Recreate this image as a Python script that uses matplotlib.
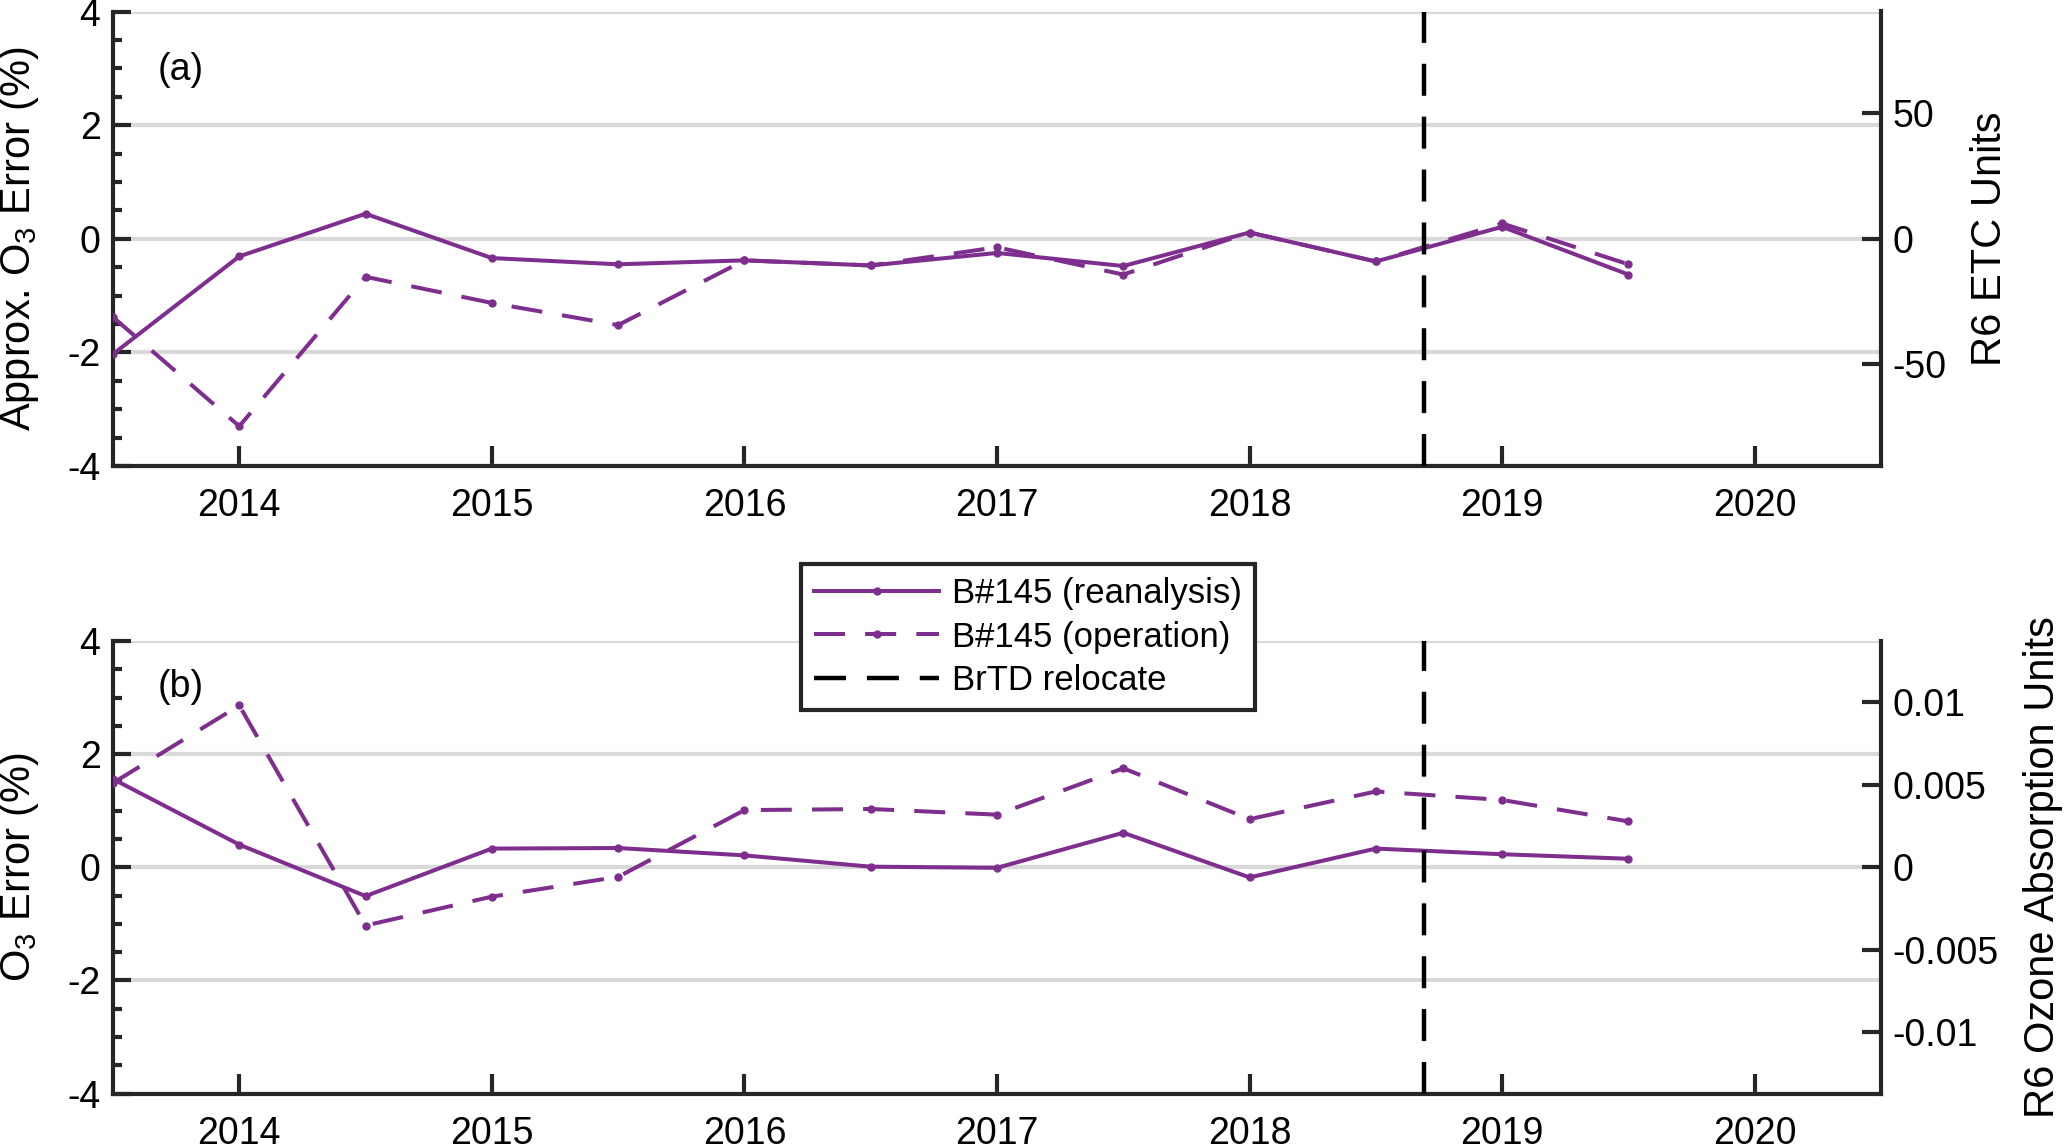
import matplotlib
matplotlib.use("Agg")
import matplotlib.pyplot as plt
from matplotlib.ticker import FixedLocator, MultipleLocator

plt.rcParams['font.family'] = ['Liberation Sans', 'DejaVu Sans']
plt.rcParams['mathtext.fontset'] = 'custom'
plt.rcParams['mathtext.rm'] = 'Liberation Sans'
plt.rcParams['axes.unicode_minus'] = False

# ---------------- data ----------------
years = [2013.5, 2014.0, 2014.5, 2015.0, 2015.5, 2016.0, 2016.5,
         2017.0, 2017.5, 2018.0, 2018.5, 2019.0, 2019.5]
top_reanalysis = [-2.03, -0.31, 0.44, -0.34, -0.45, -0.38, -0.47,
                  -0.25, -0.48, 0.11, -0.40, 0.21, -0.63]
top_operation = [-1.38, -3.30, -0.67, -1.13, -1.52, -0.38, -0.47,
                 -0.15, -0.63, 0.11, -0.40, 0.27, -0.45]
bot_reanalysis = [1.56, 0.40, -0.51, 0.33, 0.34, 0.21, 0.01,
                  -0.01, 0.61, -0.18, 0.33, 0.23, 0.15]
bot_operation = [1.49, 2.86, -1.03, -0.52, -0.17, 1.01, 1.03,
                 0.93, 1.75, 0.85, 1.34, 1.19, 0.81]
relocate_year = 2018.69

xticks = [2014, 2015, 2016, 2017, 2018, 2019, 2020]
xticklabels = ['2014', '2015', '2016', '2017', '2018', '2019', '2020']
left_ticks = [-4, -2, 0, 2, 4]
left_ticklabels = ['-4', '-2', '0', '2', '4']
top_right_ticks = [-50, 0, 50]
top_right_labels = ['-50', '0', '50']
bot_right_ticks = [-0.01, -0.005, 0, 0.005, 0.01]
bot_right_labels = ['-0.01', '-0.005', '0', '0.005', '0.01']

labels = ['B#145 (reanalysis)', 'B#145 (operation)', 'BrTD relocate']

# ---------------- style ----------------
PURPLE = '#7E2F8E'
AXC = '#262626'
W, H = 2067, 1147
fig = plt.figure(figsize=(W / 100, H / 100), dpi=100)

def frac(l, r, t, b):
    return [l / W, 1 - b / H, (r - l) / W, (b - t) / H]

ax1 = fig.add_axes(frac(113, 1881, 11.5, 466))
ax2 = fig.add_axes(frac(113, 1881, 641, 1093.5))

TFS = 27
LFS = 30
LW = 2.9

def style(ax, rean, oper, r_ticks, r_labels, r_lim, ylabel, rlabel, rlab_x, tag, tag_y):
    ax.set_axisbelow(True)
    ax.yaxis.grid(True, color='#d9d9d9', lw=3, zorder=0)
    l1, = ax.plot(years, rean, '-', color=PURPLE, lw=LW, marker='o', ms=5, zorder=3)
    l2, = ax.plot(years, oper, '--', color=PURPLE, lw=LW, marker='o', ms=5,
                  dashes=(7.7, 5.0), zorder=3)
    l3 = ax.axvline(relocate_year, color='black', lw=3.2, dashes=(7.2, 4.7), zorder=4)
    ax.set_xlim(2013.5, 2020.5)
    ax.set_ylim(-4, 4)
    ax.xaxis.set_major_locator(FixedLocator(xticks))
    ax.set_xticklabels(xticklabels)
    ax.yaxis.set_major_locator(FixedLocator(left_ticks))
    ax.set_yticklabels(left_ticklabels)
    ax.yaxis.set_minor_locator(MultipleLocator(0.5))
    for s in ['top', 'right']:
        ax.spines[s].set_visible(False)
    for s in ['left', 'bottom']:
        ax.spines[s].set_linewidth(3)
        ax.spines[s].set_color(AXC)
    ax.tick_params(axis='x', which='major', direction='in', length=14.4, width=3,
                   color=AXC, labelsize=TFS, pad=16, labelcolor='black')
    ax.tick_params(axis='y', which='major', direction='in', length=13, width=3,
                   color=AXC, labelsize=TFS, pad=9, labelcolor='black')
    ax.tick_params(axis='y', which='minor', direction='in', length=6.5, width=3,
                   color=AXC)
    ax.set_ylabel(ylabel, fontsize=LFS)
    ax.yaxis.set_label_coords(-0.053, 0.5)
    ax.yaxis.label.set_va('center')
    ax.text(0.025, tag_y, tag, transform=ax.transAxes, fontsize=TFS,
            ha='left', va='center')

    tw = ax.twinx()
    tw.set_ylim(*r_lim)
    tw.yaxis.set_major_locator(FixedLocator(r_ticks))
    tw.set_yticklabels(r_labels)
    for s in ['top', 'left', 'bottom']:
        tw.spines[s].set_visible(False)
    tw.spines['right'].set_linewidth(3)
    tw.spines['right'].set_color(AXC)
    tw.tick_params(axis='y', which='major', direction='in', length=13.5, width=3,
                   color=AXC, labelsize=TFS, pad=8.5, labelcolor='black')
    tw.set_ylabel(rlabel, fontsize=LFS, rotation=90)
    tw.yaxis.set_label_coords(rlab_x, 0.5)
    tw.yaxis.label.set_va('center')
    return l1, l2, l3

h = style(ax1, top_reanalysis, top_operation, top_right_ticks, top_right_labels,
          (-90.4, 90.4), 'Approx. O$_{\\mathregular{3}}$ Error (%)', 'R6 ETC Units',
          1.0617, '(a)', 0.871)
style(ax2, bot_reanalysis, bot_operation, bot_right_ticks, bot_right_labels,
      (-0.0137, 0.0137), 'O$_{\\mathregular{3}}$ Error (%)', 'R6 Ozone Absorption Units',
      1.0916, '(b)', 0.898)

leg = fig.legend(h, labels, loc='upper left', bbox_to_anchor=(801 / W, 1 - 564 / H),
                 fontsize=25, frameon=True, fancybox=False, numpoints=1,
                 handlelength=3.6, handletextpad=0.36, borderpad=0.38,
                 labelspacing=0.3, borderaxespad=0)
fr = leg.get_frame()
fr.set_edgecolor(AXC)
fr.set_linewidth(3)
fr.set_alpha(1)

fig.savefig('out.png', dpi=100)
